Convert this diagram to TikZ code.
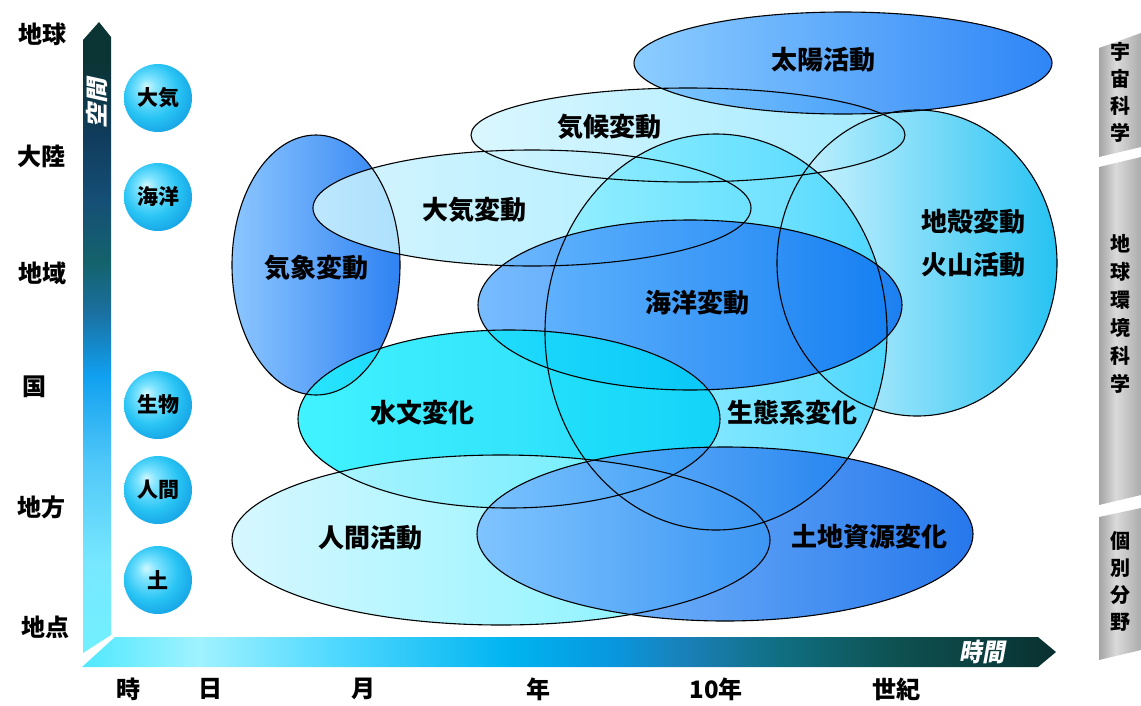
\documentclass[tikz,border=0pt]{standalone}
\usepackage{fontspec}
\setmainfont{Noto Sans CJK JP}
\newfontfamily\jpsl{Noto Sans CJK JP}[FakeSlant=0.2]
\definecolor{vA}{HTML}{70F0FF}
\definecolor{vB}{HTML}{78E8FF}
\definecolor{vC}{HTML}{50C8F8}
\definecolor{vD}{HTML}{10A0F0}
\definecolor{vE}{HTML}{1A70A0}
\definecolor{vF}{HTML}{14626C}
\definecolor{vG}{HTML}{154E76}
\definecolor{vH}{HTML}{103C5C}
\definecolor{vI}{HTML}{0B3434}
\definecolor{hA}{HTML}{50E8FF}
\definecolor{hB}{HTML}{A0F2FF}
\definecolor{hC}{HTML}{50D8FF}
\definecolor{hD}{HTML}{00B4F0}
\definecolor{hE}{HTML}{0898E0}
\definecolor{hF}{HTML}{1A80B8}
\definecolor{hG}{HTML}{106E80}
\definecolor{hH}{HTML}{0E5050}
\definecolor{hI}{HTML}{0A3030}
\definecolor{gA}{HTML}{A4A4A4}
\definecolor{gB}{HTML}{DADADA}
\definecolor{gC}{HTML}{ACACAC}
\definecolor{bA}{HTML}{D0F8FF}
\definecolor{bB}{HTML}{80E4FF}
\definecolor{bC}{HTML}{28C4F4}
\definecolor{bD}{HTML}{1098E0}
\pgfdeclareverticalshading{vbarsh}{100bp}{color(0bp)=(vA); color(25bp)=(vA);
  color(32bp)=(vB); color(40bp)=(vC); color(47bp)=(vD); color(52bp)=(vE);
  color(56bp)=(vF); color(61bp)=(vG); color(66bp)=(vH); color(72bp)=(vI); color(100bp)=(vI)}
\pgfdeclarehorizontalshading{hbarsh}{100bp}{color(0bp)=(hA); color(25bp)=(hA);
  color(31bp)=(hB); color(38bp)=(hC); color(47bp)=(hD); color(52bp)=(hE);
  color(56bp)=(hF); color(61bp)=(hG); color(67bp)=(hH); color(75bp)=(hI); color(100bp)=(hI)}
\pgfdeclarehorizontalshading{greysh}{100bp}{color(0bp)=(gA); color(25bp)=(gA);
  color(45bp)=(gB); color(75bp)=(gC); color(100bp)=(gC)}
\pgfdeclareradialshading{ballsh}{\pgfpoint{-9bp}{9bp}}{color(0bp)=(bA); color(7bp)=(bB);
  color(20bp)=(bC); color(34bp)=(bD); color(50bp)=(bD)}
\tikzset{
  blob/.style={fill opacity=0.85},
  outl/.style={draw=black, line width=1.1pt},
  lbl/.style={font=\fontsize{26}{28}\selectfont\bfseries, inner sep=0pt},
  axl/.style={font=\fontsize{24}{26}\selectfont\bfseries, inner sep=0pt},
  ballt/.style={font=\fontsize{21}{23}\selectfont\bfseries, inner sep=0pt},
  ball/.style={shading=ballsh},
  sidet/.style={font=\fontsize{20}{21}\selectfont\bfseries, inner sep=0pt},
  axt/.style={font=\fontsize{25}{27}\selectfont\jpsl\bfseries, text=white, inner sep=0pt, xscale=0.9}
}
\begin{document}
\begin{tikzpicture}[x=1pt,y=-1pt]
\useasboundingbox (0,0) rectangle (1141,705);
% axes
\shade[shading=vbarsh] (83,653) -- (83,40) -- (99,22) -- (111,37) -- (111,635) -- cycle;
\shade[shading=hbarsh] (82,667) -- (115,637) -- (1038,637) -- (1056,652) -- (1038,667) -- cycle;
\node[axt, rotate=90] (vlab) at (97,103) {空間};
\node[axt] (hlab) at (982,652) {時間};
% side bars
\shade[shading=greysh] (1099,48) -- (1141,33) -- (1141,147) -- (1099,157) -- cycle;
\shade[shading=greysh] (1099,167) -- (1141,157) -- (1141,495) -- (1099,505) -- cycle;
\shade[shading=greysh] (1099,517) -- (1141,508) -- (1141,650) -- (1099,660) -- cycle;
\node[sidet, align=center] (s1) at (1120,92) {宇\\[6pt]宙\\[6pt]科\\[6pt]学};
\node[sidet, align=center] (s2) at (1120,314) {地\\[7pt]球\\[7pt]環\\[7pt]境\\[7pt]科\\[7pt]学};
\node[sidet, align=center] (s3) at (1120,581) {個\\[6pt]別\\[6pt]分\\[6pt]野};
% ellipses
\shade[blob, left color={rgb,255:red,120;green,188;blue,255}, right color={rgb,255:red,10;green,108;blue,240}] (316,265) ellipse (84pt and 130pt);
\shade[blob, left color={rgb,255:red,205;green,242;blue,255}, right color={rgb,255:red,160;green,236;blue,255}] (532,208) ellipse (219pt and 58pt);
\shade[blob, left color={rgb,255:red,212;green,245;blue,255}, right color={rgb,255:red,144;green,230;blue,255}] (688,135) ellipse (217pt and 47pt);
\shade[blob, left color={rgb,255:red,120;green,196;blue,255}, right color={rgb,255:red,10;green,112;blue,245}] (843,63) ellipse (209pt and 51pt);
\shade[blob, left color={rgb,255:red,216;green,246;blue,255}, right color={rgb,255:red,0;green,184;blue,240}] (917,263) ellipse (140pt and 153pt);
\shade[blob, left color={rgb,255:red,144;green,240;blue,255}, right color={rgb,255:red,64;green,212;blue,255}] (716,332) ellipse (171pt and 198pt);
\shade[blob, left color={rgb,255:red,96;green,176;blue,255}, right color={rgb,255:red,10;green,112;blue,240}] (690,305) ellipse (212pt and 85pt);
\shade[blob, left color={rgb,255:red,32;green,240;blue,255}, right color={rgb,255:red,0;green,208;blue,248}] (509,419) ellipse (211pt and 89pt);
\shade[blob, left color={rgb,255:red,207;green,246;blue,255}, right color={rgb,255:red,96;green,240;blue,255}] (501,540) ellipse (269pt and 85pt);
\shade[blob, left color={rgb,255:red,120;green,188;blue,255}, right color={rgb,255:red,0;green,96;blue,232}] (725,534) ellipse (248pt and 87pt);
\foreach \cx/\cy/\rx/\ry in {316/265/84/130, 532/208/219/58, 688/135/217/47, 843/63/209/51,
  917/263/140/153, 716/332/171/198, 690/305/212/85, 509/419/211/89, 501/540/269/85, 725/534/248/87}
  \draw[outl] (\cx,\cy) ellipse (\rx pt and \ry pt);
% ellipse labels
\node[lbl] (taiyo) at (823,60) {太陽活動};
\node[lbl] (kikou) at (609,127) {気候変動};
\node[lbl] (taiki) at (474,210) {大気変動};
\node[lbl] (kisho) at (316,268) {気象変動};
\node[lbl] (chikaku) at (973,222) {地殻変動};
\node[lbl] (kazan) at (973,265) {火山活動};
\node[lbl] (kaiyo) at (697,303) {海洋変動};
\node[lbl] (suimon) at (422,413) {水文変化};
\node[lbl] (seitai) at (792,413) {生態系変化};
\node[lbl] (ningen) at (370,538) {人間活動};
\node[lbl] (tochi) at (869,537) {土地資源変化};
% balls
\foreach \y/\t/\n in {98/大気/b1, 197/海洋/b2, 405/生物/b3, 490/人間/b4, 580/土/b5}{
  \shade[ball] (158,\y) circle (34pt);
  \node[ballt] (\n) at (158,\y) {\t};
}
% space labels
\node[axl] (l1) at (42,34) {地球};
\node[axl] (l2) at (41,156) {大陸};
\node[axl] (l3) at (42,273) {地域};
\node[axl] (l4) at (34,387) {国};
\node[axl] (l5) at (41,507) {地方};
\node[axl] (l6) at (45,627) {地点};
% time labels
\node[axl] (t1) at (128,689) {時};
\node[axl] (t2) at (210,689) {日};
\node[axl] (t3) at (363,689) {月};
\node[axl] (t4) at (538,689) {年};
\node[axl] (t5) at (716,689) {10年};
\node[axl] (t6) at (896,689) {世紀};
\end{tikzpicture}
\end{document}
